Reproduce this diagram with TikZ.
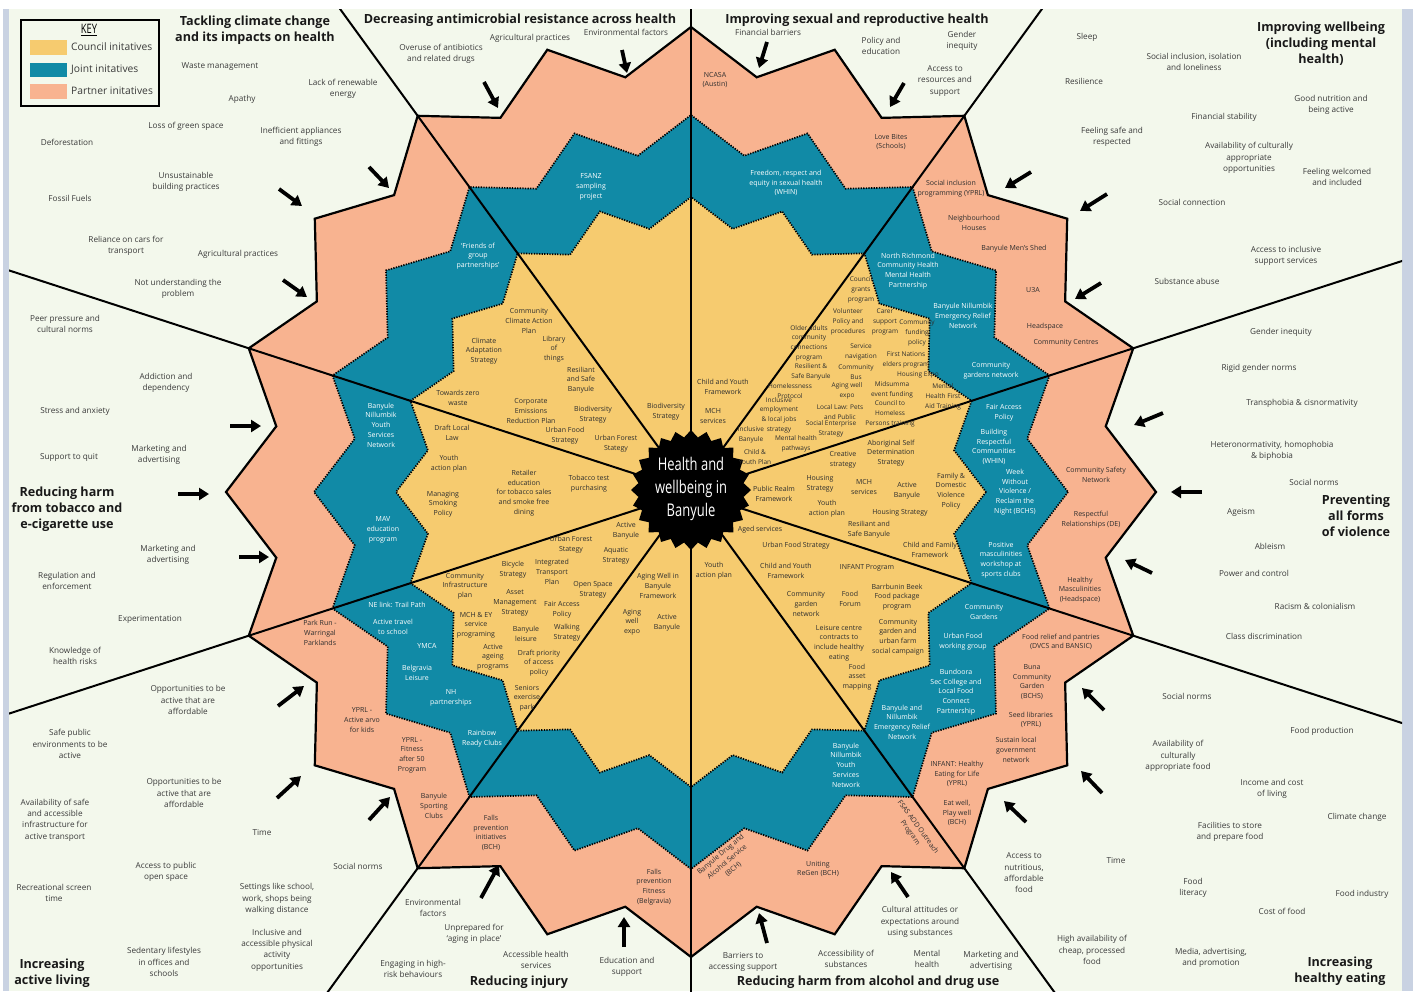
\documentclass[tikz,border=0pt]{standalone}
\usepackage{fontspec}
\setmainfont{Open Sans}
\usepackage{graphicx}
\usetikzlibrary{arrows.meta}
\definecolor{cream}{HTML}{F3F8EC}
\definecolor{peach}{HTML}{F8B390}
\definecolor{jteal}{HTML}{118AA6}
\definecolor{cyell}{HTML}{F6CB6F}
\definecolor{strip}{HTML}{C9D2E2}
\definecolor{txt}{HTML}{3A3A3A}
\definecolor{intxt}{HTML}{2E2E2E}
\newcounter{lc}
\newcounter{ac}
\newcommand\T[3]{\stepcounter{lc}\node[#1] (n\arabic{lc}) at (#2) {#3};}
\newcommand\A[2]{\stepcounter{ac}\coordinate (a\arabic{ac}s) at (#1);\coordinate (a\arabic{ac}e) at (#2);\draw[arr] (a\arabic{ac}s) -- (a\arabic{ac}e);}
\newcommand\starp[1]{([shift={(C)}]0:#1) \foreach \i in {0,...,19}{ -- ([shift={(C)}]\i*18+9:{0.903*#1}) -- ([shift={(C)}]\i*18+18:#1)} -- cycle}
\begin{document}
\begin{tikzpicture}[x=1pt,y=-1pt,
  cause/.style={font=\fontsize{8.2}{11.3}\selectfont, text=txt, align=center, inner sep=0pt},
  inl/.style={font=\fontsize{7}{9.7}\selectfont, text=intxt, align=center, inner sep=0pt},
  dns/.style={inl, font=\fontsize{6.5}{9.7}\selectfont},
  inw/.style={inl, text=white},
  ttl/.style={font=\bfseries\fontsize{12.6}{16}\selectfont, text=black!90, align=center, inner sep=0pt},
  keyl/.style={font=\fontsize{10.3}{12}\selectfont, text=txt, inner sep=0pt, anchor=west},
  arr/.style={line width=3.8pt, -{Triangle[length=10pt,width=12pt]}},
  dotb/.style={draw=black, line width=1.7pt, dash pattern=on 1.3pt off 1.3pt},
  rad/.style={line width=2pt, draw=black}]
\useasboundingbox (0,0) rectangle (1413,991);
% background
\fill[white] (0,0) rectangle (1413,991);
\fill[strip] (3,9) rectangle (9,991);
\fill[strip] (1402,9) rectangle (1413,991);
\fill[cream] (9,9) rectangle (1402,991);
\coordinate (C) at (691,492);
% bands
\fill[peach] \starp{465};
\draw[line width=2.2pt, line join=miter] \starp{465};
\fill[jteal] \starp{377};
\draw[dotb] \starp{377};
\fill[cyell] \starp{295};
\draw[dotb] \starp{295};
% radial lines
\begin{scope}
\clip (9,9) rectangle (1402,991);
\foreach \a in {18,54,...,342} \draw[rad] (C) -- ([shift={(C)}]\a:900);
\end{scope}
% centre seal
\coordinate (G) at (691,490);
\fill[black] ([shift={(G)}]0:60) \foreach \i in {0,...,23}{ -- ([shift={(G)}]\i*15+7.5:53) -- ([shift={(G)}]\i*15+15:60)} -- cycle;
\node[text=white, inner sep=0pt, font=\fontsize{17.5}{23}\selectfont] (centre) at (691,489) {\scalebox{0.74}[1]{\begin{tabular}{@{}c@{}}Health and\\wellbeing in\\Banyule\end{tabular}}};
% key
\draw[line width=1.8pt] (21,20) rectangle (159,106);
\node[inner sep=0pt, font=\fontsize{13}{15}\selectfont] (keyt) at (89,30) {\scalebox{0.72}[1]{\underline{KEY}}};
\fill[cyell] (30,40) rectangle (67,55);
\fill[jteal] (30,63) rectangle (67,77);
\fill[peach] (30,84) rectangle (67,99);
\node[keyl] (k1) at (71,47) {Council initatives};
\node[keyl] (k2) at (71,70) {Joint initatives};
\node[keyl] (k3) at (71,91) {Partner initatives};
% titles
\T{ttl}{255,30}{Tackling climate change\\and its impacts on health}
\T{ttl}{520,20}{Decreasing antimicrobial resistance across health}
\T{ttl}{857,20}{Improving sexual and reproductive health}
\T{ttl}{1321,44}{Improving wellbeing\\(including mental\\health)}
\T{ttl}{67,509}{Reducing harm\\from tobacco and\\e-cigarette use}
\T{ttl}{1356,516}{Preventing\\all forms\\of violence}
\T{ttl}{52,973}{Increasing\\active living}
\T{ttl}{519,982}{Reducing injury}
\T{ttl}{868,982}{Reducing harm from alcohol and drug use}
\T{ttl}{1340,971}{Increasing\\healthy eating}
% causes: climate
\T{cause}{220,67}{Waste management}
\T{cause}{343,89}{Lack of renewable\\energy}
\T{cause}{242,99}{Apathy}
\T{cause}{186,126}{Loss of green space}
\T{cause}{301,137}{Inefficient appliances\\and fittings}
\T{cause}{67,142}{Deforestation}
\T{cause}{186,182}{Unsustainable\\building practices}
\T{cause}{70,198}{Fossil Fuels}
\T{cause}{126,246}{Reliance on cars for\\transport}
\T{cause}{238,254}{Agricultural practices}
\T{cause}{178,289}{Not understanding the\\problem}
% tobacco
\T{cause}{65,324}{Peer pressure and\\cultural norms}
\T{cause}{166,383}{Addiction and\\dependency}
\T{cause}{75,411}{Stress and anxiety}
\T{cause}{159,455}{Marketing and\\advertising}
\T{cause}{69,457}{Support to quit}
\T{cause}{168,555}{Marketing and\\advertising}
\T{cause}{67,581}{Regulation and\\enforcement}
\T{cause}{150,619}{Experimentation}
\T{cause}{75,656}{Knowledge of\\health risks}
% active living
\T{cause}{188,700}{Opportunities to be\\active that are\\affordable}
\T{cause}{70,744}{Safe public\\environments to be\\active}
\T{cause}{184,793}{Opportunities to be\\active that are\\affordable}
\T{cause}{55,820}{Availability of safe\\and accessible\\infrastructure for\\active transport}
\T{cause}{262,833}{Time}
\T{cause}{166,872}{Access to public\\open space}
\T{cause}{277,899}{Settings like school,\\work, shops being\\walking distance}
\T{cause}{54,893}{Recreational screen\\time}
\T{cause}{277,950}{Inclusive and\\accessible physical\\activity\\opportunities}
\T{cause}{164,962}{Sedentary lifestyles\\in offices and\\schools}
% injury
\T{cause}{358,866}{Social norms}
\T{cause}{433,908}{Environmental\\factors}
\T{cause}{474,934}{Unprepared for\\`aging in place'}
\T{cause}{536,960}{Accessible health\\services}
\T{cause}{413,969}{Engaging in high-\\risk behaviours}
\T{cause}{627,967}{Education and\\support}
% alcohol
\T{cause}{920,922}{Cultural attitudes or\\expectations around\\using substances}
\T{cause}{743,962}{Barriers to\\accessing support}
\T{cause}{846,959}{Accessibility of\\substances}
\T{cause}{927,959}{Mental\\health}
\T{cause}{991,961}{Marketing and\\advertising}
% healthy eating
\T{cause}{1024,873}{Access to\\nutritious,\\affordable\\food}
\T{cause}{1187,696}{Social norms}
\T{cause}{1322,731}{Food production}
\T{cause}{1178,756}{Availability of\\culturally\\appropriate food}
\T{cause}{1272,789}{Income and cost\\of living}
\T{cause}{1357,817}{Climate change}
\T{cause}{1230,832}{Facilities to store\\and prepare food}
\T{cause}{1116,861}{Time}
\T{cause}{1193,888}{Food\\literacy}
\T{cause}{1362,894}{Food industry}
\T{cause}{1282,911}{Cost of food}
\T{cause}{1092,950}{High availability of\\cheap, processed\\food}
\T{cause}{1211,958}{Media, advertising,\\and promotion}
% violence
\T{cause}{1281,332}{Gender inequity}
\T{cause}{1259,368}{Rigid gender norms}
\T{cause}{1302,403}{Transphobia \& cisnormativity}
\T{cause}{1272,451}{Heteronormativity, homophobia\\\& biphobia}
\T{cause}{1314,482}{Social norms}
\T{cause}{1241,512}{Ageism}
\T{cause}{1270,546}{Ableism}
\T{cause}{1254,573}{Power and control}
\T{cause}{1315,606}{Racism \& colonialism}
\T{cause}{1264,636}{Class discrimination}
% wellbeing
\T{cause}{1087,37}{Sleep}
\T{cause}{1194,62}{Social inclusion, isolation\\and loneliness}
\T{cause}{1084,81}{Resilience}
\T{cause}{1331,105}{Good nutrition and\\being active}
\T{cause}{1224,117}{Financial stability}
\T{cause}{1112,137}{Feeling safe and\\respected}
\T{cause}{1249,158}{Availability of culturally\\appropriate\\opportunities}
\T{cause}{1337,177}{Feeling welcomed\\and included}
\T{cause}{1192,202}{Social connection}
\T{cause}{1286,256}{Access to inclusive\\support services}
\T{cause}{1187,281}{Substance abuse}
% sexual health
\T{cause}{768,32}{Financial barriers}
\T{cause}{881,46}{Policy and\\education}
\T{cause}{962,41}{Gender\\inequity}
\T{cause}{945,81}{Access to\\resources and\\support}
% antimicrobial
\T{cause}{530,38}{Agricultural practices}
\T{cause}{626,32}{Environmental factors}
\T{cause}{441,54}{Overuse of antibiotics\\and related drugs}
% arrows
\A{369,167}{389,188}
\A{279,189}{302,206}
\A{283,280}{307,297}
\A{484,82}{498,108}
\A{622,50}{627,73}
\A{767,42}{759,68}
\A{904,83}{890,107}
\A{1031,172}{1005,188}
\A{1107,194}{1080,211}
\A{1101,283}{1075,299}
\A{1163,413}{1134,425}
\A{1202,492}{1171,492}
\A{1152,573}{1125,560}
\A{1104,710}{1082,688}
\A{1102,793}{1081,771}
\A{1026,822}{1004,801}
\A{908,897}{891,872}
\A{767,943}{759,913}
\A{624,947}{624,917}
\A{481,898}{499,865}
\A{369,820}{390,797}
\A{278,706}{304,686}
\A{277,798}{301,776}
\A{230,426}{261,426}
\A{178,494}{209,494}
\A{239,557}{269,557}
% partner (peach) labels
\T{inl}{715,80}{NCASA\\(Austin)}
\T{inl}{891,142}{Love Bites\\(Schools)}
\T{inl}{951,189}{Social inclusion\\programming (YPRL)}
\T{inl}{974,223}{Neighbourhood\\Houses}
\T{inl}{1014,249}{Banyule Men's Shed}
\T{inl}{1033,290}{U3A}
\T{inl}{1045,327}{Headspace}
\T{inl}{1066,343}{Community Centres}
\T{inl}{1096,475}{Community Safety\\Network}
\T{inl}{1091,520}{Respectful\\Relationships (DE)}
\T{inl}{1080,590}{Healthy\\Masculinities\\(Headspace)}
\T{inl}{1061,642}{Food relief and pantries\\(DVCS and BANSIC)}
\T{inl}{1032,682}{Buna\\Community\\Garden\\(BCHS)}
\T{inl}{1031,720}{Seed libraries\\(YPRL)}
\T{inl}{1016,750}{Sustain local\\government\\network}
\T{inl}{957,774}{INFANT: Healthy\\Eating for Life\\(YPRL)}
\T{inl}{957,813}{Eat well,\\Play well\\(BCH)}
\T{inl,rotate=-54}{914,830}{FSAS AOD Outreach\\Program}
\T{inl}{818,869}{Uniting\\ReGen (BCH)}
\T{inl,rotate=40}{727,862}{Banyule Drug and\\Alcohol Service\\(BCH)}
\T{inl}{491,833}{Falls\\prevention\\initiatives\\(BCH)}
\T{inl}{654,887}{Falls\\prevention\\Fitness\\(Belgravia)}
\T{inl}{434,806}{Banyule\\Sporting\\Clubs}
\T{inl}{412,755}{YPRL -\\Fitness\\after 50\\Program}
\T{inl}{362,720}{YPRL -\\Active arvo\\for kids}
\T{inl}{320,633}{Park Run -\\Warringal\\Parklands}
% joint (teal) labels
\T{inw}{591,187}{FSANZ\\sampling\\project}
\T{inw}{478,256}{`Friends of\\group\\partnerships'}
\T{inw}{786,183}{Freedom, respect and\\equity in sexual health\\(WHIN)}
\T{inw}{908,271}{North Richmond\\Community Health\\Mental Health\\Partnership}
\T{inw}{963,316}{Banyule Nillumbik\\Emergency Relief\\Network}
\T{inw}{991,371}{Community\\gardens network}
\T{inw}{1004,413}{Fair Access\\Policy}
\T{inw}{994,447}{Building\\Respectful\\Communities\\(WHIN)}
\T{inw}{1015,492}{Week\\Without\\Violence /\\Reclaim the\\Night (BCHS)}
\T{inw}{1001,560}{Positive\\masculinities\\workshop at\\sports clubs}
\T{inw}{984,612}{Community\\Gardens}
\T{inw}{963,642}{Urban Food\\working group}
\T{inw}{956,692}{Bundoora\\Sec College and\\Local Food\\Connect\\Partnership}
\T{inw}{902,722}{Banyule and\\Nillumbik\\Emergency Relief\\Network}
\T{inw}{846,765}{Banyule\\Nillumbik\\Youth\\Services\\Network}
\T{inw}{482,739}{Rainbow\\Ready Clubs}
\T{inw}{451,698}{NH\\partnerships}
\T{inw}{417,673}{Belgravia\\Leisure}
\T{inw}{427,646}{YMCA}
\T{inw}{393,627}{Active travel\\to school}
\T{inw}{397,605}{NE link: Trail Path}
\T{inw}{383,530}{MAV\\education\\program}
\T{inw}{381,425}{Banyule\\Nillumbik\\Youth\\Services\\Network}
% council (yellow) labels
\T{inl}{529,321}{Community\\Climate Action\\Plan}
\T{inl}{484,351}{Climate\\Adaptation\\Strategy}
\T{inl}{554,349}{Library\\of\\things}
\T{inl}{581,380}{Resiliant\\and Safe\\Banyule}
\T{inl}{458,398}{Towards zero\\waste}
\T{inl}{531,411}{Corporate\\Emissions\\Reduction Plan}
\T{inl}{593,415}{Biodiversity\\Strategy}
\T{inl}{666,412}{Biodiversity\\Strategy}
\T{inl}{565,436}{Urban Food\\Strategy}
\T{inl}{616,444}{Urban Forest\\Stategy}
\T{inl}{452,433}{Draft Local\\Law}
\T{inl}{449,464}{Youth\\action plan}
\T{inl}{524,493}{Retailer\\education\\for tobacco sales\\and smoke free\\dining}
\T{inl}{589,484}{Tobacco test\\purchasing}
\T{inl}{443,504}{Managing\\Smoking\\Policy}
\T{inl}{626,531}{Active\\Banyule}
\T{inl}{571,545}{Urban Forest\\Stategy}
\T{inl}{616,556}{Aquatic\\Strategy}
\T{inl}{513,570}{Bicycle\\Strategy}
\T{inl}{552,572}{Integrated\\Transport\\Plan}
\T{inl}{465,586}{Community\\Infrastructure\\plan}
\T{inl}{593,590}{Open Space\\Strategy}
\T{inl}{515,603}{Asset\\Management\\Strategy}
\T{inl}{562,610}{Fair Access\\Policy}
\T{inl}{476,625}{MCH \& EY\\service\\programing}
\T{inl}{526,634}{Banyule\\leisure}
\T{inl}{567,633}{Walking\\Strategy}
\T{inl}{493,657}{Active\\ageing\\programs}
\T{inl}{539,663}{Draft priority\\of access\\policy}
\T{inl}{527,698}{Seniors\\exercise\\park}
\T{inl}{658,586}{Aging Well in\\Banyule\\Framework}
\T{inl}{632,622}{Aging\\well\\expo}
\T{inl}{667,623}{Active\\Banyule}
\T{inl}{714,571}{Youth\\action plan}
\T{inl}{760,530}{Aged services}
\T{inl}{796,546}{Urban Food Strategy}
\T{inl}{786,571}{Child and Youth\\Framework}
\T{inl}{867,568}{INFANT Program}
\T{inl}{806,604}{Community\\garden\\network}
\T{inl}{850,599}{Food\\Forum}
\T{inl}{897,597}{Barrbunin Beek\\Food package\\program}
\T{inl}{839,643}{Leisure centre\\contracts to\\include healthy\\eating}
\T{inl}{898,637}{Community\\garden and\\urban farm\\social campaign}
\T{inl}{857,677}{Food\\asset\\mapping}
\T{inl}{930,550}{Child and Family\\Framework}
\T{inl}{900,513}{Housing Strategy}
\T{inl}{869,530}{Resiliant and\\Safe Banyule}
\T{inl}{951,491}{Family \&\\Domestic\\Violence\\Policy}
\T{inl}{907,491}{Active\\Banyule}
\T{inl}{864,487}{MCH\\services}
\T{inl}{820,484}{Housing\\Strategy}
\T{inl}{827,509}{Youth\\action plan}
\T{inl}{774,494}{Public Realm\\Framework}
\T{inl}{843,460}{Creative\\strategy}
\T{inl}{891,453}{Aboriginal Self\\Determination\\Strategy}
\T{inl}{723,387}{Child and Youth\\Framework}
\T{inl}{713,416}{MCH\\services}
\T{dns}{861,290}{Council\\grants\\program}
\T{dns}{848,322}{Volunteer\\Policy and\\procedures}
\T{dns}{885,322}{Carer\\support\\program}
\T{dns}{917,333}{Community\\funding\\policy}
\T{dns}{809,343}{Older adults\\community\\connections\\program}
\T{dns}{861,352}{Service\\navigation}
\T{dns}{906,360}{First Nations\\elders program}
\T{dns}{811,372}{Resilient \&\\Safe Banyule}
\T{dns}{856,372}{Community\\Bus}
\T{dns}{918,375}{Housing Expo}
\T{dns}{790,391}{Homelessness\\Protocol}
\T{dns}{847,391}{Aging well\\expo}
\T{dns}{892,390}{Midsumma\\event funding}
\T{dns}{943,397}{Mental\\Health First\\Aid Training}
\T{dns}{779,415}{Inclusive\\employment\\\& local jobs\\strategy}
\T{dns}{840,412}{Local Law: Pets\\and Public}
\T{dns}{890,414}{Council to\\Homeless\\Persons training}
\T{dns}{831,429}{Social Enterprise\\Strategy}
\T{dns}{751,435}{Inclusive\\Banyule}
\T{dns}{796,444}{Mental health\\pathways}
\T{dns}{755,457}{Child \&\\Youth Plan}
\end{tikzpicture}
\end{document}
